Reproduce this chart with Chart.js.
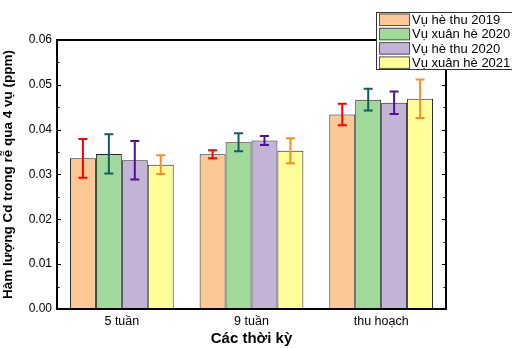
<!DOCTYPE html>
<html>
<head>
<meta charset="utf-8">
<script src="https://cdn.jsdelivr.net/npm/chart.js@4"></script>
<style>
  html,body{margin:0;padding:0;background:#fff;}
  #wrap{width:512px;height:348px;}
</style>
</head>
<body>
<div id="wrap"><canvas id="c" width="512" height="348"></canvas></div>
<script>
// data
const periods = ['5 tuần', '9 tuần', 'thu hoạch'];
const seasons = ['Vụ hè thu 2019', 'Vụ xuân hè 2020', 'Vụ hè thu 2020', 'Vụ xuân hè 2021'];
const he2019 = [0.0336, 0.0345, 0.0434];
const xuan2020 = [0.0346, 0.0372, 0.0467];
const he2020 = [0.0332, 0.0376, 0.0460];
const xuan2021 = [0.0322, 0.0353, 0.0469];
const errHe2019 = [0.0043, 0.0009, 0.0024];
const errXuan2020 = [0.0044, 0.0020, 0.0024];
const errHe2020 = [0.0043, 0.0010, 0.0025];
const errXuan2021 = [0.0021, 0.0028, 0.0043];
const yTicks = [0, 0.01, 0.02, 0.03, 0.04, 0.05, 0.06];

const fills = ['#fcc896', '#a1d99b', '#c2b3d7', '#ffff99'];
const errColors = ['#ff0000', '#0f5f5a', '#4b1399', '#ff8c28'];
const values = [he2019, xuan2020, he2020, xuan2021];
const errs = [errHe2019, errXuan2020, errHe2020, errXuan2021];

const FONT = '"Liberation Sans", Arial, sans-serif';

// error bars on top of the bars
const errorBars = {
  id: 'errorBars',
  afterDatasetsDraw(chart){
    const ctx = chart.ctx, y = chart.scales.y;
    chart.data.datasets.forEach((ds, i) => {
      const meta = chart.getDatasetMeta(i);
      meta.data.forEach((bar, j) => {
        const v = ds.data[j], e = ds.err[j];
        const top = y.getPixelForValue(v + e), bot = y.getPixelForValue(v - e);
        ctx.save();
        ctx.strokeStyle = ds.errColor; ctx.lineWidth = 2;
        ctx.beginPath();
        ctx.moveTo(bar.x, top); ctx.lineTo(bar.x, bot);
        ctx.moveTo(bar.x - 4.5, top); ctx.lineTo(bar.x + 4.5, top);
        ctx.moveTo(bar.x - 4.5, bot); ctx.lineTo(bar.x + 4.5, bot);
        ctx.stroke();
        ctx.restore();
      });
    });
  }
};

// box frame, inward ticks and the legend
const frame = {
  id: 'frame',
  afterDraw(chart){
    const ctx = chart.ctx, a = chart.chartArea, y = chart.scales.y;
    ctx.save();
    ctx.strokeStyle = '#000'; ctx.lineWidth = 2;
    ctx.strokeRect(a.left, a.top, a.right - a.left, a.bottom - a.top);
    ctx.lineWidth = 1;
    ctx.beginPath();
    for(let v = 0; v <= 0.0601; v += 0.005){
      const py = Math.round(y.getPixelForValue(v)) + 0.5;
      const major = Math.round(v * 1000) % 10 === 0;
      const len = major ? 4 : 2.5;
      ctx.moveTo(a.left, py); ctx.lineTo(a.left + len, py);
      ctx.moveTo(a.right, py); ctx.lineTo(a.right - len, py);
    }
    ctx.stroke();

    // legend box
    const lx = 376, ly = 12, rowH = 14.3;
    ctx.fillStyle = '#fff';
    ctx.fillRect(lx, ly, 140, 58);
    ctx.strokeStyle = '#333'; ctx.lineWidth = 1;
    ctx.strokeRect(lx + 0.5, ly + 0.5, 140, 57);
    ctx.font = '13px ' + FONT;
    ctx.textBaseline = 'middle';
    chart.data.datasets.forEach((ds, i) => {
      const ry = ly + 1.5 + i * rowH;
      ctx.fillStyle = ds.backgroundColor;
      ctx.fillRect(lx + 3, ry, 31, 12.5);
      ctx.strokeStyle = '#555';
      ctx.strokeRect(lx + 3.5, ry + 0.5, 30, 11.5);
      ctx.fillStyle = '#000';
      ctx.fillText(ds.label, lx + 36, ry + 7);
    });
    ctx.restore();
  }
};

new Chart(document.getElementById('c'), {
  type: 'bar',
  data: {
    labels: periods,
    datasets: seasons.map((s, i) => ({
      label: s,
      data: values[i],
      err: errs[i],
      errColor: errColors[i],
      backgroundColor: fills[i],
      borderColor: '#222',
      borderWidth: 1,
      categoryPercentage: 0.8,
      barPercentage: 1
    }))
  },
  options: {
    responsive: false,
    animation: false,
    layout: { padding: { left: 0, right: 66, top: 40, bottom: 0 } },
    plugins: { legend: { display: false }, tooltip: { enabled: false } },
    scales: {
      x: {
        grid: { display: false, drawTicks: false },
        border: { display: true, color: '#000', width: 2 },
        ticks: { color: '#000', font: { family: FONT, size: 12.5 }, padding: 5 },
        title: { display: true, text: 'Các thời kỳ', color: '#000', font: { family: FONT, size: 15, weight: 'bold' }, padding: { top: 0, bottom: 0 } },
        afterFit(s){ s.height = 39; }
      },
      y: {
        min: 0, max: 0.06,
        afterBuildTicks(s){ s.ticks = yTicks.map(v => ({ value: v })); },
        grid: { display: false, drawTicks: false },
        border: { display: true, color: '#000', width: 2 },
        ticks: { color: '#000', font: { family: FONT, size: 12 }, padding: 5, callback: v => v.toFixed(2) },
        title: { display: true, text: 'Hàm lượng Cd trong rễ qua 4 vụ (ppm)', color: '#000', font: { family: FONT, size: 13.5, weight: 'bold' }, padding: { top: 0, bottom: 0 } },
        afterFit(s){ s.width = 57; }
      }
    }
  },
  plugins: [errorBars, frame]
});
</script>
</body>
</html>
